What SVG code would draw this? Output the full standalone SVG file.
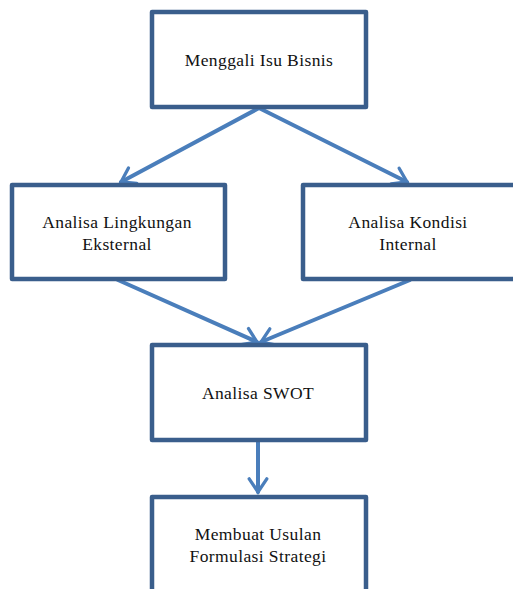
<svg xmlns="http://www.w3.org/2000/svg" width="513" height="589" viewBox="0 0 513 589">
<style>
.box{fill:#fff;stroke:#3A5E8C;stroke-width:4.5;stroke-linejoin:round}
.lbl{font-family:"Liberation Serif","Times New Roman",serif;font-size:17.5px;letter-spacing:0.4px;fill:#111;text-anchor:middle}
.conn{stroke:#4A7EBB;stroke-width:4;fill:none;stroke-linecap:round}
</style>
<defs>
<marker id="arr" viewBox="0 0 20 20" refX="16" refY="10" markerWidth="5.5" markerHeight="5.5" markerUnits="strokeWidth" orient="auto">
<path d="M4,2 L16,10 L4,18" fill="none" stroke="#4A7EBB" stroke-width="3" stroke-linecap="round" stroke-linejoin="miter"/>
</marker>
</defs>
<rect width="513" height="589" fill="#fff"/>
<g id="connectors">
<line class="conn" x1="259" y1="108" x2="121" y2="182" marker-end="url(#arr)"/>
<line class="conn" x1="259" y1="108" x2="407" y2="182" marker-end="url(#arr)"/>
<line class="conn" x1="118" y1="280" x2="257" y2="342" marker-end="url(#arr)"/>
<line class="conn" x1="410" y1="280" x2="261" y2="342" marker-end="url(#arr)"/>
<line class="conn" x1="258" y1="442" x2="258" y2="492" marker-end="url(#arr)"/>
</g>
<g id="n1">
<rect class="box" x="152" y="12" width="214" height="95"/>
<text class="lbl" x="259" y="66">Menggali Isu Bisnis</text>
</g>
<g id="n2">
<rect class="box" x="12" y="185" width="213" height="94"/>
<text class="lbl" x="117" y="228">Analisa Lingkungan</text>
<text class="lbl" x="117" y="250">Eksternal</text>
</g>
<g id="n3">
<rect class="box" x="303" y="185" width="214" height="94"/>
<text class="lbl" x="408" y="228">Analisa Kondisi</text>
<text class="lbl" x="408" y="250">Internal</text>
</g>
<g id="n4">
<rect class="box" x="152" y="345" width="214" height="95"/>
<text class="lbl" x="258" y="399">Analisa SWOT</text>
</g>
<g id="n5">
<rect class="box" x="152" y="497" width="214" height="120"/>
<text class="lbl" x="258" y="540">Membuat Usulan</text>
<text class="lbl" x="258" y="562">Formulasi Strategi</text>
</g>
</svg>
